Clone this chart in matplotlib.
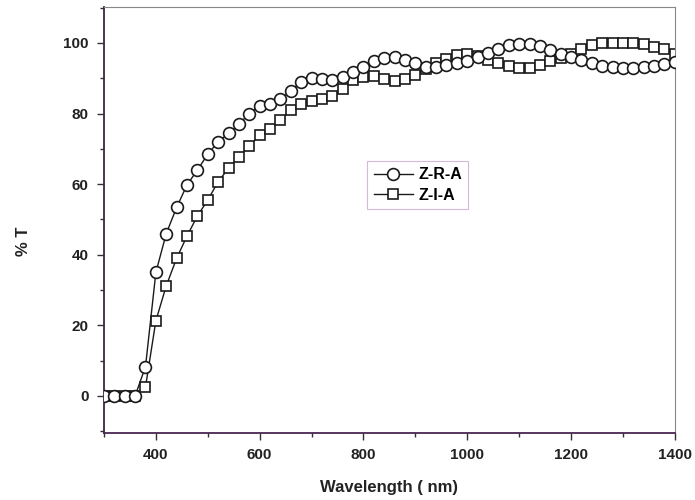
import matplotlib
matplotlib.use("Agg")
import matplotlib.pyplot as plt
from matplotlib.ticker import MultipleLocator

plt.rcParams['font.family'] = ['Liberation Sans', 'DejaVu Sans']

wavelength = list(range(300, 1401, 20))

zra = [0, 0, 0, 0, 8.3, 35, 46, 53.4, 59.8, 64, 68.5, 72, 74.4, 77, 80, 82.2,
       82.7, 84, 86.5, 89, 90, 89.8, 89.5, 90.3, 91.8, 93.2, 94.8, 95.8, 96,
       95.3, 94.2, 93.2, 93.3, 93.8, 94.3, 95, 96, 97.3, 98.4, 99.3, 99.7,
       99.7, 99.1, 98, 96.8, 95.9, 95.2, 94.4, 93.6, 93.1, 92.8, 92.8, 93.1,
       93.6, 94.1, 94.5]

zia = [0, 0, 0, 0, 2.5, 21.3, 31.2, 39, 45.3, 51, 55.5, 60.7, 64.5, 67.8,
       70.8, 73.9, 75.5, 78.2, 81, 82.6, 83.5, 84.2, 85, 87.1, 89.5, 90.4,
       90.6, 89.7, 89.2, 89.7, 91, 92.6, 94.3, 95.6, 96.6, 96.8, 96.2, 95.2,
       94.4, 93.4, 92.9, 92.9, 93.8, 94.8, 95.8, 96.9, 98.2, 99.3, 100, 100.1,
       100, 100, 99.7, 99, 98.2, 97]

labels = ["Z-R-A", "Z-I-A"]
x_ticks = [400, 600, 800, 1000, 1200, 1400]
y_ticks = [0, 20, 40, 60, 80, 100]

fig = plt.figure(figsize=(6.95, 5.0), dpi=100)
ax = fig.add_axes([0.1496, 0.134, 0.8214, 0.852])

ax.plot(wavelength, zra, color='#1a1a1a', lw=1.0, marker='o', ms=8.5,
        mfc='white', mec='#1a1a1a', mew=1.2, label=labels[0], zorder=3)
ax.plot(wavelength, zia, color='#1a1a1a', lw=1.0, marker='s', ms=7.5,
        mfc='white', mec='#1a1a1a', mew=1.2, label=labels[1], zorder=2)

ax.set_xlim(300, 1400)
ax.set_ylim(-10.5, 110.2)
ax.set_xticks(x_ticks)
ax.set_yticks(y_ticks)
ax.xaxis.set_minor_locator(MultipleLocator(100))
ax.yaxis.set_minor_locator(MultipleLocator(10))

ax.tick_params(axis='both', which='major', direction='out', length=5,
               width=1, colors='#3a2a3a', labelsize=11, pad=6)
ax.tick_params(axis='both', which='minor', direction='out', length=3,
               width=1, colors='#3a2a3a')
ax.tick_params(top=False, right=False, which='both')
for lbl in ax.get_xticklabels() + ax.get_yticklabels():
    lbl.set_fontweight('bold')
    lbl.set_color('#222222')

for side in ['left', 'bottom']:
    ax.spines[side].set_color('#3a2a3a')
    ax.spines[side].set_linewidth(1.3)
ax.spines['bottom'].set_color('#4a2550')
for side in ['top', 'right']:
    ax.spines[side].set_color('#888888')
    ax.spines[side].set_linewidth(0.8)

ax.set_xlabel("Wavelength ( nm)", fontsize=12, fontweight='bold',
              color='#222222', labelpad=13)
ax.set_ylabel("% T", fontsize=12, fontweight='bold', color='#222222')
ax.yaxis.set_label_coords(-0.127, 0.45)

leg = ax.legend(loc='upper left', bbox_to_anchor=(0.447, 0.657), frameon=True,
                fancybox=False, edgecolor='#d8b8d8', framealpha=1,
                prop={'weight': 'bold', 'size': 11.5}, handlelength=2.5,
                borderpad=0.4, labelspacing=0.35, handletextpad=0.3)
leg.get_frame().set_linewidth(0.8)

fig.savefig("out.png", dpi=100)
